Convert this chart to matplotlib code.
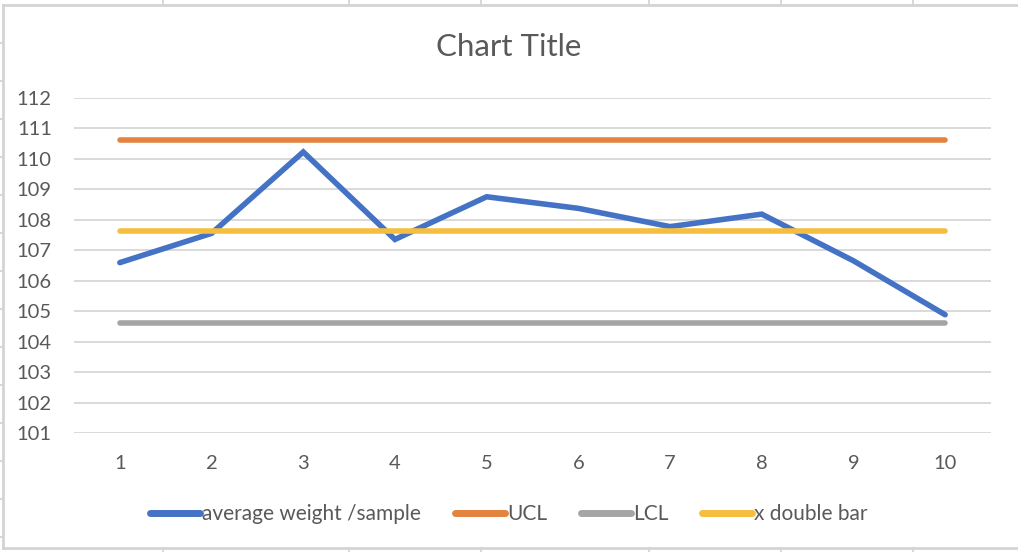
import matplotlib
matplotlib.use("Agg")
import matplotlib.pyplot as plt
from matplotlib.lines import Line2D

# ---- data ----
samples = [1, 2, 3, 4, 5, 6, 7, 8, 9, 10]
avg_weight = [106.59, 107.55, 110.22, 107.35, 108.75, 108.37, 107.77, 108.18, 106.65, 104.88]
ucl = [110.62] * 10
lcl = [104.62] * 10
x_double_bar = [107.62] * 10
y_ticks = [101, 102, 103, 104, 105, 106, 107, 108, 109, 110, 111, 112]

plt.rcParams['font.family'] = ['Lato', 'DejaVu Sans']

W, H = 1018, 552
fig = plt.figure(figsize=(W / 100, H / 100), dpi=100)
fig.patch.set_facecolor('white')

ax = fig.add_axes([74 / W, 1 - 433 / H, (991 - 74) / W, (433 - 97.7) / H])
ax.set_facecolor('white')

text_col = '#595959'
grid_col = '#D9D9D9'

lw = 4.0
ax.plot(samples, avg_weight, color='#4472C4', lw=lw, solid_capstyle='round',
        solid_joinstyle='miter', label='average weight /sample', zorder=3)
ax.plot(samples, ucl, color='#E4823F', lw=lw, solid_capstyle='round', label='UCL', zorder=3)
ax.plot(samples, lcl, color='#A5A5A5', lw=lw, solid_capstyle='round', label='LCL', zorder=3)
ax.plot(samples, x_double_bar, color='#F6BE3F', lw=lw, solid_capstyle='round',
        label='x double bar', zorder=3)

ax.set_xlim(0.5, 10.5)
ax.set_ylim(101, 112)
ax.set_yticks(y_ticks)
ax.set_xticks(samples)
ax.yaxis.grid(True, color=grid_col, lw=1.4)
ax.set_axisbelow(True)
for s in ax.spines.values():
    s.set_visible(False)
ax.tick_params(axis='both', length=0, labelsize=14.5, colors=text_col)
ax.tick_params(axis='y', pad=16)
ax.tick_params(axis='x', pad=16)

fig.text(0.5, 1 - 47 / H, 'Chart Title', ha='center', va='center',
         fontsize=22.5, color=text_col)

leg = ax.legend(loc='center', bbox_to_anchor=(0.5, 1 - 514 / H), bbox_transform=fig.transFigure,
                ncol=4, frameon=False, fontsize=15, handlelength=2.4, handletextpad=0.12,
                columnspacing=1.6, labelcolor=text_col)
for h in leg.get_lines():
    h.set_linewidth(5)
    h.set_solid_capstyle('round')

# ---- spreadsheet cell borders around the chart (decoration) ----
bc = '#D4D4D4'
def pline(x0, y0, x1, y1, lwid=1.3):
    fig.add_artist(Line2D([x0 / W, x1 / W], [1 - y0 / H, 1 - y1 / H],
                          color=bc, lw=lwid, transform=fig.transFigure))

pline(3, 5, W, 5, 2)
pline(3, 548, W, 548, 2)
pline(3, 5, 3, 548, 2)
for xc in [163, 349, 481, 649, 781, 913]:
    pline(xc, 0, xc, 5)
    pline(xc, 548, xc, H)
for yc in [43, 81, 119, 157, 195, 233, 271, 309, 347, 385, 423, 461, 499, 537]:
    pline(0, yc, 3, yc)

fig.savefig('out.png', dpi=100, facecolor='white')
